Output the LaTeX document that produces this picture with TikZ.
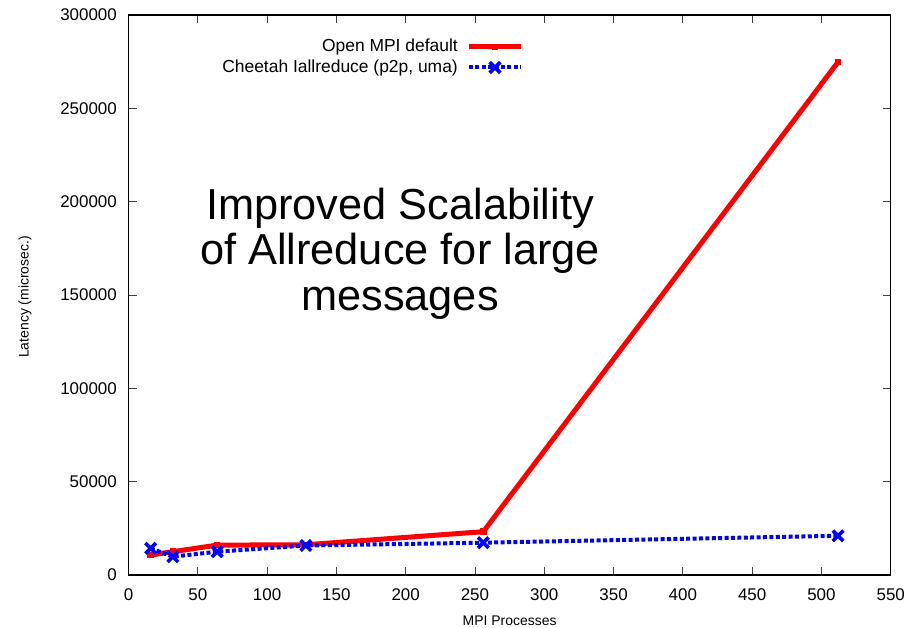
\documentclass[tikz,border=0pt]{standalone}
\usepackage{fontspec}
\setmainfont{Liberation Sans}
\usetikzlibrary{shapes.misc}
\begin{document}
\begin{tikzpicture}[x=1bp,y=-1bp,
  frameline/.style={line width=1.5bp, black},
  tickline/.style={line width=0.9bp, black!75},
  ticklabel/.style={font=\fontsize{17}{20}\selectfont, inner sep=0pt},
  axislabel/.style={font=\fontsize{14}{16}\selectfont, inner sep=0pt},
  legendlabel/.style={font=\fontsize{17.5}{20}\selectfont, inner sep=0pt, anchor=east},
  titleline/.style={font=\fontsize{43.5}{46}\selectfont, inner sep=0pt, anchor=base},
  redline/.style={line width=5bp, red, line join=round},
  blueline/.style={line width=4bp, blue, dash pattern=on 4bp off 2.4bp},
  redmark/.style={rectangle, fill=red, minimum size=6.5bp, inner sep=0pt},
  bluemark/.style={cross out, draw=blue, line width=3.6bp, minimum size=7bp, inner sep=0pt}
]
\useasboundingbox[fill=white] (0,0) rectangle (920,628);

% plot frame corners
\coordinate (ll) at (128.5,575);
\coordinate (ur) at (890.7,15);

% data coordinate system: x in processes, y in thousands of microseconds (upwards)
\begin{scope}[shift={(128.5,575)}, x=1.38582bp, y=1.86667bp]
  % ticks on all four sides
  \foreach \v in {50,100,...,500} {
    \draw[tickline] (\v,0) -- ++(0,4.3);
    \draw[tickline] (\v,300) -- ++(0,-4.3);
    \node[ticklabel, anchor=base] at (\v,-13.4) {\v};
  }
  \node[ticklabel, anchor=base] at (0,-13.4) {0};
  \node[ticklabel, anchor=base] at (550,-13.4) {550};
  \foreach \v/\t in {50/50000,100/100000,150/150000,200/200000,250/250000} {
    \draw[tickline] (0,\v) -- ++(5.8,0);
    \draw[tickline] (550,\v) -- ++(-5.8,0);
    \node[ticklabel, anchor=east] at (-8.3,\v) {\t};
  }
  \node[ticklabel, anchor=east] at (-8.3,0) {0};
  \node[ticklabel, anchor=east] at (-8.3,300) {300000};

  % Open MPI default
  \coordinate (r1) at (16,10.7);
  \coordinate (r2) at (32,12.5);
  \coordinate (r3) at (64,16.0);
  \coordinate (r4) at (128,16.2);
  \coordinate (r5) at (256,23.2);
  \coordinate (r6) at (512,274.8);
  % Cheetah Iallreduce
  \coordinate (b1) at (16,14.3);
  \coordinate (b2) at (32,9.8);
  \coordinate (b3) at (64,12.5);
  \coordinate (b4) at (128,15.8);
  \coordinate (b5) at (256,17.3);
  \coordinate (b6) at (512,21.0);
\end{scope}

\draw[frameline] (ll) rectangle (ur);

% data series
\draw[redline] (r1) -- (r2) -- (r3) -- (r4) -- (r5) -- (r6);
\foreach \p in {1,...,6} \node[redmark] (rm\p) at (r\p) {};
\draw[blueline] (b1) -- (b2) -- (b3) -- (b4) -- (b5) -- (b6);
\foreach \p in {1,...,6} \node[bluemark] (bm\p) at (b\p) {};

% axis labels
\node[axislabel, anchor=base] (xlab) at (509.6,625) {MPI Processes};
\node[axislabel, rotate=90] (ylab) at (25,297) {Latency (microsec.)};

% legend
\node[legendlabel] (leg1) at (458,47) {Open MPI default};
\node[legendlabel] (leg2) at (458,67.5) {Cheetah Iallreduce (p2p, uma)};
\coordinate (ra) at (469,47);
\coordinate (rb) at (521,47);
\coordinate (ba) at (469,67.5);
\coordinate (bb) at (521,67.5);
\draw[redline] (ra) -- (rb);
\node[redmark] (legr) at (495,47) {};
\draw[blueline] (ba) -- (bb);
\node[bluemark] (legb) at (495,67.5) {};

% annotation
\node[titleline] (t1) at (400,219.3) {Improved Scalability};
\node[titleline] (t2) at (400,265) {of Allreduce for large};
\node[titleline] (t3) at (400,310.5) {messages};
\end{tikzpicture}
\end{document}
